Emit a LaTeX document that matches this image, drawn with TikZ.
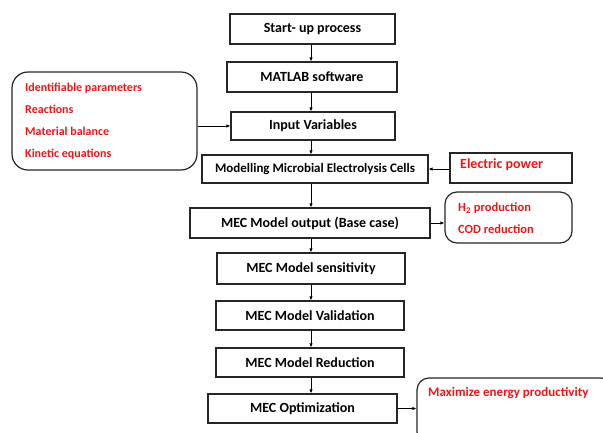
\documentclass[tikz,border=0pt]{standalone}
\usepackage{fontspec}
\setmainfont{Carlito}
\usetikzlibrary{arrows.meta}
\definecolor{redtxt}{RGB}{240,20,20}
\tikzset{
  box/.style={draw=black!85, line width=1.2pt, rectangle, inner sep=0pt, font=\bfseries\fontsize{14}{16}\selectfont},
  rbox/.style={draw=black!85, line width=1.2pt, rectangle, rounded corners=12pt, inner sep=0pt},
  redt/.style={text=redtxt, font=\bfseries\fontsize{12}{22}\selectfont, inner sep=0pt},
  arr/.style={draw=black, line width=0.9pt, -{Latex[length=4pt,width=3.5pt]}},
}
\begin{document}
\begin{tikzpicture}[x=1pt,y=-1pt]
\useasboundingbox (0,0) rectangle (603,432);
\coordinate (ax) at (311,0);
% main column
\node[box, minimum width=165pt, minimum height=30pt] (start) at (312.5,29) {Start- up process};
\node[box, minimum width=170pt, minimum height=30pt] (matlab) at (312,77) {MATLAB software};
\node[box, minimum width=164pt, minimum height=28pt] (input) at (313,126) {Input Variables};
\node[box, minimum width=226pt, minimum height=28pt, font=\bfseries\fontsize{13}{15}\selectfont] (model) at (315,169) {Modelling Microbial Electrolysis Cells};
\node[box, minimum width=240pt, minimum height=30pt] (output) at (310,223) {MEC Model output (Base case)};
\node[box, minimum width=188pt, minimum height=31pt] (sens) at (311,268.5) {MEC Model sensitivity};
\node[box, minimum width=188pt, minimum height=29pt] (valid) at (310,315.5) {MEC Model Validation};
\node[box, minimum width=188pt, minimum height=29pt] (reduc) at (310,362.5) {MEC Model Reduction};
\node[box, minimum width=189pt, minimum height=29pt] (optim) at (302.5,408.5) {MEC Optimization};
% side boxes
\node[rbox, minimum width=185pt, minimum height=98pt, rounded corners=16pt] (left) at (104.5,121) {};
\node[redt, anchor=west, align=left] (lefttxt) at (25,121) {Identifiable parameters\\Reactions\\Material balance\\Kinetic equations};
\node[box, minimum width=122pt, minimum height=30pt] (elec) at (511,168) {};
\node[redt, anchor=west, font=\bfseries\fontsize{14}{16}\selectfont] (electxt) at (460,165) {Electric power};
\node[rbox, minimum width=127pt, minimum height=51pt] (h2) at (508.5,217.5) {};
\node[redt, anchor=west, align=left, font=\bfseries\fontsize{12.5}{22}\selectfont] (h2txt) at (458,218) {H\textsubscript{2} production\\COD reduction};
\node[rbox, minimum width=196pt, minimum height=66pt] (max) at (515,411) {};
\node[redt, anchor=west, font=\bfseries\fontsize{13}{15}\selectfont] (maxtxt) at (428,393) {Maximize energy productivity};
% vertical arrows
\draw[arr] (start.south -| ax) -- (matlab.north -| ax);
\draw[arr] (matlab.south -| ax) -- (input.north -| ax);
\draw[arr] (input.south -| ax) -- (model.north -| ax);
\draw[arr] (model.south -| ax) -- (output.north -| ax);
\draw[arr] (output.south -| ax) -- (sens.north -| ax);
\draw[arr] (sens.south -| ax) -- (valid.north -| ax);
\draw[arr] (valid.south -| ax) -- (reduc.north -| ax);
\draw[arr] (reduc.south -| ax) -- (optim.north -| ax);
% horizontal arrows
\draw[arr] (left.east |- input.west) -- (input.west);
\draw[arr] (elec.west |- model.east) -- (model.east);
\draw[arr] (output.east) -- (output.east -| h2.west);
\draw[arr] (optim.east) -- (optim.east -| max.west);
\end{tikzpicture}
\end{document}
